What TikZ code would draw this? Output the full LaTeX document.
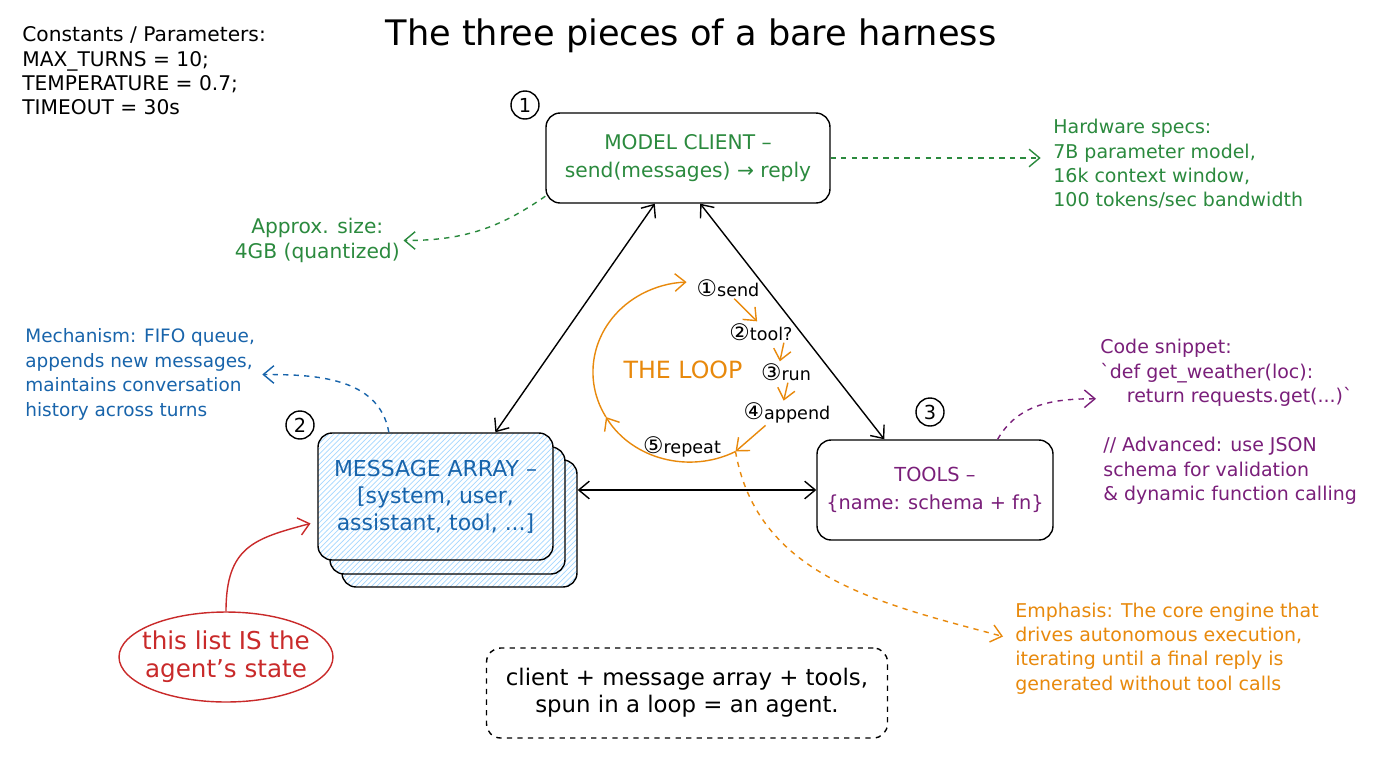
\documentclass[tikz,border=0pt]{standalone}
\usepackage{fontspec}
\setmainfont{DejaVu Sans}[Ligatures=TeXOff]
\usepackage{tikz}
\usetikzlibrary{arrows.meta, calc, patterns, shapes.geometric}
\definecolor{mygreen}{HTML}{2B8A3E}
\definecolor{myblue}{HTML}{1864AB}
\definecolor{mypurple}{HTML}{7A1F7A}
\definecolor{myorange}{HTML}{E8890C}
\definecolor{myred}{HTML}{C92A2A}
\definecolor{hatch}{HTML}{A5D8FF}

\begin{document}
\begin{tikzpicture}[x=0.02cm, y=0.02cm,
    txt/.style={font=\fontsize{10.8}{13.8}\selectfont, align=left, inner sep=0pt},
    bigbox/.style={draw, thick, rounded corners=8pt, align=center, font=\fontsize{11.5}{16}\selectfont},
    msgbox/.style={bigbox, minimum width=4.7cm, minimum height=2.54cm, preaction={fill=white}, pattern=north east lines, pattern color=hatch},
    numcirc/.style={draw, thick, circle, minimum size=0.56cm, inner sep=0pt, font=\fontsize{11}{11}\selectfont},
    both/.style={thick, {Straight Barb[length=6pt,width=10pt]}-{Straight Barb[length=6pt,width=10pt]}},
    note/.style={thick, dashed, -{Straight Barb[length=6pt,width=10pt]}},
    looparr/.style={myorange, thick, -{Straight Barb[length=6pt,width=10pt]}},
    steplbl/.style={font=\fontsize{10}{12}\selectfont, inner sep=1pt}]
\fill[white] (0,0) rectangle (1376,-768);
\useasboundingbox (0,0) rectangle (1376,-768);

\node[font=\fontsize{20}{24}\selectfont] (title) at (691,-36) {The three pieces of a bare harness};
\node[txt, font=\fontsize{11.5}{13.8}\selectfont, anchor=west] (consts) at (22,-71) {Constants / Parameters:\\MAX\_TURNS = 10;\\TEMPERATURE = 0.7;\\TIMEOUT = 30s};

\node[bigbox, text=mygreen, minimum width=5.68cm, minimum height=1.8cm] (mc) at (688,-158) {MODEL CLIENT –\\send(messages) → reply};
\node[numcirc] (n1) at (525,-105) {1};
\node[txt, text=mygreen, anchor=west] (hw) at (1053,-164) {Hardware specs:\\7B parameter model,\\16k context window,\\100 tokens/sec bandwidth};
\node[txt, font=\fontsize{11.5}{14.2}\selectfont, text=mygreen, align=center, anchor=east] (size) at (400,-240.5) {Approx. size:\\4GB (quantized)};

\node[msgbox] (msgc) at (459.5,-523.5) {};
\node[msgbox] (msgb) at (447.5,-510.5) {};
\node[msgbox, text=myblue, font=\fontsize{12.5}{15.3}\selectfont] (msg) at (435.5,-496.5) {MESSAGE ARRAY –\\{[}system, user,\\assistant, tool, ...]};
\node[numcirc] (n2) at (300,-425) {2};
\node[txt, font=\fontsize{10.5}{14}\selectfont, text=myblue, anchor=west] (mech) at (25,-374.5) {Mechanism: FIFO queue,\\appends new messages,\\maintains conversation\\history across turns};

\node[bigbox, text=mypurple, font=\fontsize{11}{16}\selectfont, minimum width=4.72cm, minimum height=2cm] (tools) at (935,-490) {TOOLS –\\\{name: schema + fn\}};
\node[numcirc] (n3) at (930,-412) {3};
\node[txt, text=mypurple, anchor=west] (code) at (1100,-373) {Code snippet:\\`def get\_weather(loc):\\\hspace*{1.4em}return requests.get(...)`};
\node[txt, text=mypurple, anchor=west] (adv) at (1103,-471) {// Advanced: use JSON\\schema for validation\\\& dynamic function calling};

\node[font=\fontsize{13.5}{15}\selectfont, text=myorange] (looplbl) at (683,-370) {THE LOOP};
\node[steplbl] (s1) at (728,-288) {{\fontsize{13}{12}\selectfont ①}send};
\node[steplbl] (s2) at (761,-332) {{\fontsize{13}{12}\selectfont ②}tool?};
\node[steplbl] (s3) at (786,-372) {{\fontsize{13}{12}\selectfont ③}run};
\node[steplbl] (s4) at (787,-413) {{\fontsize{13}{12}\selectfont ④}append};
\node[steplbl] (s5) at (682,-447) {{\fontsize{13}{12}\selectfont ⑤}repeat};
\coordinate (loopbot) at (735.5,-451.5);
\node[txt, text=myorange, anchor=west] (emph) at (1015,-648.5) {Emphasis: The core engine that\\drives autonomous execution,\\iterating until a final reply is\\generated without tool calls};

\node[draw, myred, thick, ellipse, minimum width=4.28cm, minimum height=1.8cm] (st) at (226,-657) {};
\node[text=myred, align=center, font=\fontsize{14}{16}\selectfont] (stlbl) at (st) {this list IS the\\agent’s state};
\node[draw, thick, dashed, rounded corners=8pt, align=center, minimum width=8.02cm, minimum height=1.8cm, font=\fontsize{13}{15.5}\selectfont] (sum) at (687,-693) {client + message array + tools,\\spun in a loop = an agent.};

\draw[both] (mc.234) -- (msg.47);
\draw[both] (mc.285) -- (tools.135);
\draw[both] (tools.west -| msgc.east) -- (tools.west);

\draw[note, mygreen, shorten >=7pt] (mc.east) -- (mc.east -| hw.west);
\draw[note, mygreen, shorten >=2pt] (mc.195) to[out=215, in=0] (size.east);
\draw[note, myblue, shorten >=4pt] (msg.126) to[out=100, in=0] (mech.east);
\draw[note, mypurple] (tools.39) to[out=60, in=180] ($(code.south west)+(-4,8)$);
\draw[note, myorange] (loopbot) to[out=-80, in=165] ($(emph.west)+(-12,12)$);
\draw[myred, thick, shorten >=4pt, -{Straight Barb[length=6pt,width=10pt]}] (st.north) to[out=90, in=195, looseness=1.3] (msg.192);

\draw[looparr] (loopbot) arc[start angle=-62, end angle=-150, x radius=97, y radius=90] coordinate (loopleft);
\draw[looparr] (loopleft) arc[start angle=-150, end angle=-268, x radius=97, y radius=90];
\draw[looparr] (s1.-60) -- (s2.110);
\draw[looparr] (s2.-25) -- (s3.120);
\draw[looparr] (s3.-80) -- (s4.105);
\draw[looparr] (s4.-150) -- (loopbot);
\end{tikzpicture}
\end{document}
